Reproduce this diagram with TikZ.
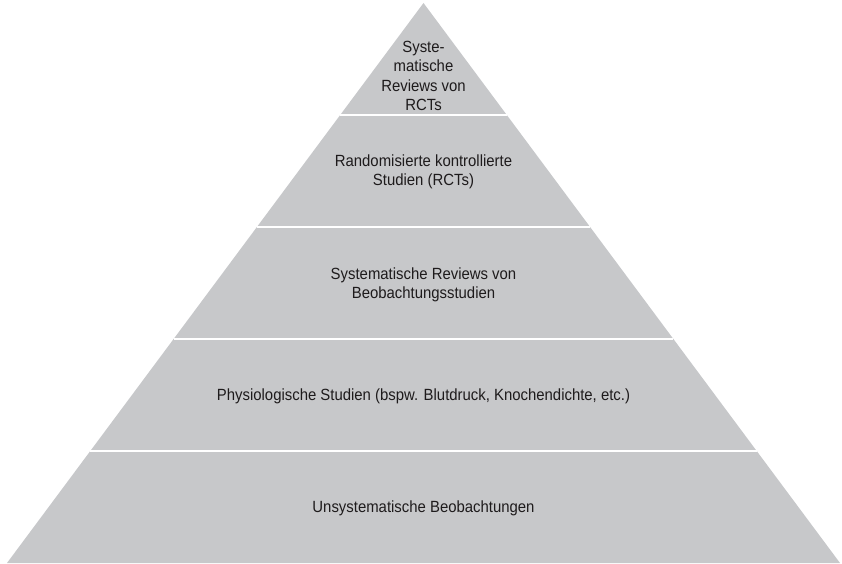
\documentclass[tikz,border=0pt]{standalone}
\usepackage{fontspec}
\setmainfont[FakeStretch=0.92]{Liberation Sans}
\usetikzlibrary{calc}
\definecolor{pyrgray}{RGB}{199,200,202}
\definecolor{pyrtext}{RGB}{30,27,28}

\begin{document}
\begin{tikzpicture}[x=1pt, y=1pt,
    tier/.style={fill=pyrgray, draw=none},
    sep/.style={draw=white, line width=2pt},
    tiertext/.style={align=center, text=pyrtext, font=\fontsize{16.2}{19.5}\selectfont}
]
\useasboundingbox (0,0) rectangle (842,563);

\coordinate (apex) at (423.5,560);
\coordinate (bl) at (7,0);
\coordinate (br) at (840,0);

% pyramid body
\fill[tier] (bl) -- (br) -- (apex) -- cycle;

% white separators between the tiers
\draw[sep] ($(bl)!0.2!(apex)$) -- ($(br)!0.2!(apex)$);
\draw[sep] ($(bl)!0.4!(apex)$) -- ($(br)!0.4!(apex)$);
\draw[sep] ($(bl)!0.6!(apex)$) -- ($(br)!0.6!(apex)$);
\draw[sep] ($(bl)!0.8!(apex)$) -- ($(br)!0.8!(apex)$);

\node[tiertext] (t5) at (423.5,487) {Syste-\\matische\\Reviews von\\RCTs};
\node[tiertext] (t4) at (423.5,391) {Randomisierte kontrollierte\\Studien (RCTs)};
\node[tiertext] (t3) at (423.5,278) {Systematische Reviews von\\Beobachtungsstudien};
\node[tiertext] (t2) at (423.5,167) {Physiologische Studien (bspw. Blutdruck, Knochendichte, etc.)};
\node[tiertext] (t1) at (423.5,55) {Unsystematische Beobachtungen};
\end{tikzpicture}
\end{document}
